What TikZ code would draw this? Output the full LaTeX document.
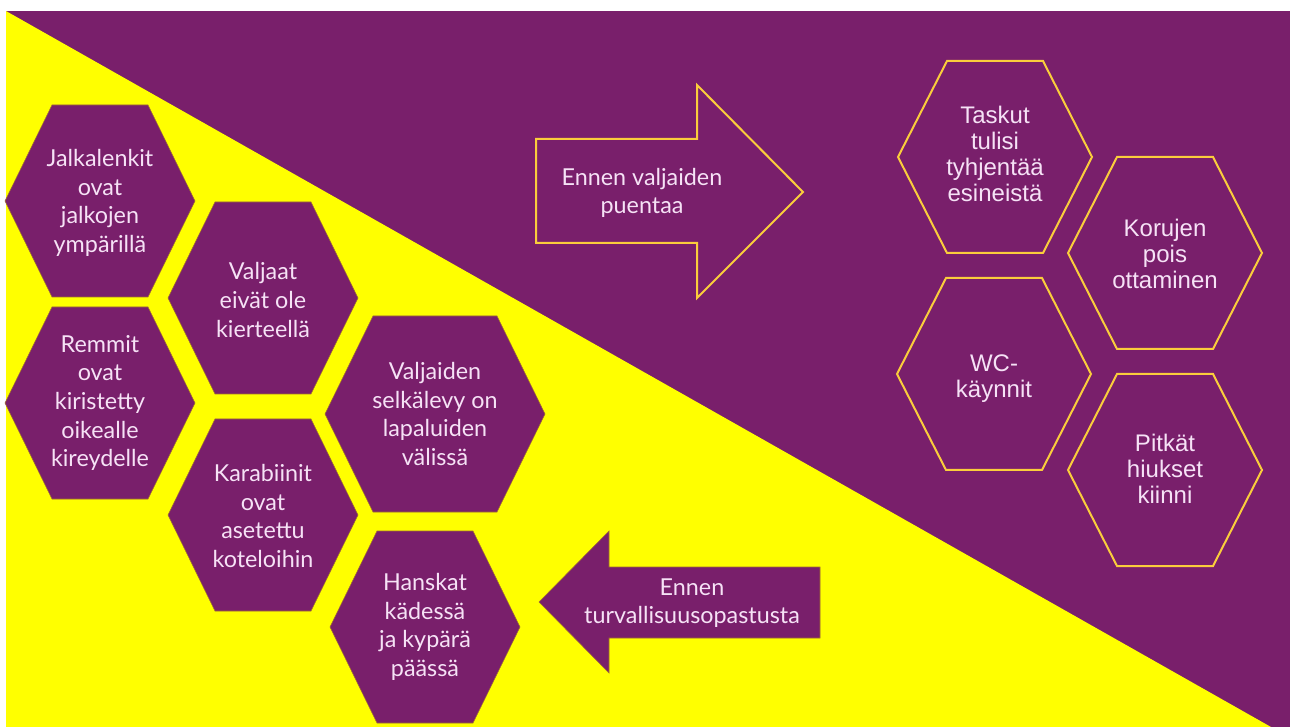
\documentclass[tikz,border=0pt]{standalone}
\usepackage{fontspec}
\newfontfamily\aptosish{Lato}
\newfontfamily\arialish{Liberation Sans}
\usetikzlibrary{arrows.meta}
\definecolor{violetbg}{RGB}{121,31,107}
\definecolor{lemon}{RGB}{255,255,0}
\definecolor{goldline}{RGB}{250,205,60}
\definecolor{rimline}{RGB}{160,110,50}
\definecolor{paletext}{RGB}{246,226,246}

\begin{document}
\begin{tikzpicture}[x=0.75pt, y=-0.75pt,
        lefthex/.style = {fill=violetbg, draw=rimline, line width=0.4pt},
        righthex/.style = {fill=violetbg, draw=goldline, line width=1.5pt},
        lefttxt/.style = {text=paletext, align=center, inner sep=0pt, font=\aptosish\fontsize{17.5}{21.4}\selectfont},
        righttxt/.style = {text=paletext, align=center, inner sep=0pt, font=\arialish\fontsize{18}{19.5}\selectfont}]
            \useasboundingbox (0,0) rectangle (1290,727);
            \fill[white] (0,0) rectangle (1290,727);
            \fill[violetbg] (6,11) rectangle (1290,727);
            \fill[lemon] (6,11) -- (1271,727) -- (6,727) -- cycle;

            % centre x / centre y / half width / half top edge / half height
            \foreach \cx/\cy/\w/\t/\h in {100/201/95/48/96, 100/403/95/48/96, 263/298/95/48/96,
                263/515/95/48/96, 435/414/110/62/98, 425/627/95/48/96}
                \draw[lefthex] (\cx-\w,\cy) -- (\cx-\t,\cy-\h) -- (\cx+\t,\cy-\h) -- (\cx+\w,\cy)
                    -- (\cx+\t,\cy+\h) -- (\cx-\t,\cy+\h) -- cycle;
            \foreach \cx/\cy/\w/\t/\h in {995/157/97/48/96, 1165/253/97/48/96, 994/374/97/48/96, 1165/470/97/48/96}
                \draw[righthex] (\cx-\w,\cy) -- (\cx-\t,\cy-\h) -- (\cx+\t,\cy-\h) -- (\cx+\w,\cy)
                    -- (\cx+\t,\cy+\h) -- (\cx-\t,\cy+\h) -- cycle;

            \draw[righthex] (536,139) -- (697,139) -- (697,85) -- (803,192) -- (697,298) -- (697,243) -- (536,243) -- cycle;
            \draw[lefthex] (820,567) -- (609,567) -- (609,531) -- (539,602) -- (609,673) -- (609,638) -- (820,638) -- cycle;

            \node[lefttxt] (jalat) at (100,203) {Jalkalenkit\\ovat\\jalkojen\\ympärillä};
            \node[lefttxt] (remmit) at (100,403) {Remmit\\ovat\\kiristetty\\oikealle\\kireydelle};
            \node[lefttxt] (kierre) at (263,300) {Valjaat\\eivät ole\\kierteellä};
            \node[lefttxt] (karbit) at (263,516) {Karabiinit\\ovat\\asetettu\\koteloihin};
            \node[lefttxt] (selka) at (435,414) {Valjaiden\\selkälevy on\\lapaluiden\\välissä};
            \node[lefttxt] (hanskat) at (425,627) {Hanskat\\kädessä\\ja kypärä\\päässä};

            \node[righttxt] (taskut) at (995,154) {Taskut\\tulisi\\tyhjentää\\esineistä};
            \node[righttxt] (korut) at (1165,254) {Korujen\\pois\\ottaminen};
            \node[righttxt] (wc) at (994,379) {WC-\\käynnit};
            \node[righttxt] (hiukset) at (1165,469) {Pitkät\\hiukset\\kiinni};

            \node[lefttxt] (puenta) at (642,193) {Ennen valjaiden\\puentaa};
            \node[lefttxt] (opastus) at (692,603) {Ennen\\turvallisuusopastusta};
        \end{tikzpicture}
\end{document}
